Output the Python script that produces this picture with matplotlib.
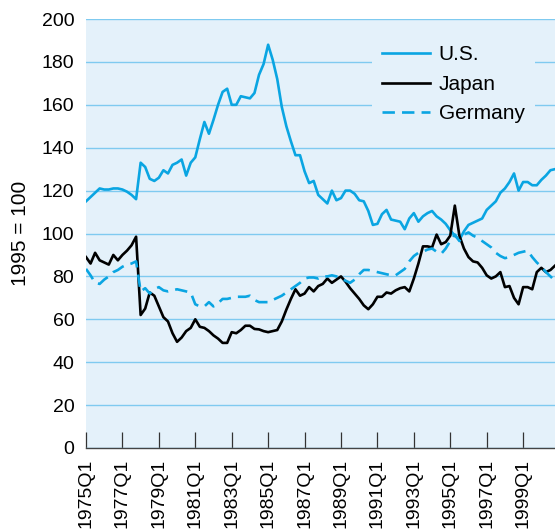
import matplotlib
matplotlib.use("Agg")
import matplotlib.pyplot as plt
import numpy as np

# Quarterly data 1975Q1 .. 2000Q4
years = list(range(1975, 2001))
quarters = [f"{y}Q{q}" for y in years for q in range(1, 5)]

us = [115, 117, 119, 121, 120.5, 120.5, 121, 121, 120.5, 119.5, 118, 116,
      133, 131, 125.5, 124.5, 126, 129.5, 128, 132, 133, 134.5, 127, 133,
      135.5, 144, 152, 146.5, 153, 160, 166, 167.5, 160, 160, 164, 163.5,
      163, 165.5, 174, 179, 188, 181, 172, 159, 150, 143, 136.5, 136.5,
      129, 123.5, 124.5, 118, 116, 114, 120, 115.5, 116.5, 120, 120, 118.5,
      115.5, 115, 110.5, 104, 104.5, 109, 111, 106.5, 106, 105.5, 102, 107,
      109.5, 105.5, 108, 109.5, 110.5, 108, 106.5, 104.5, 101.5, 99, 97, 101,
      104, 105, 106, 107, 111, 113, 115, 119, 121, 124, 128, 120,
      124, 124, 122.5, 122.5, 125, 127, 129.5, 130]

japan = [89, 86, 91, 87.5, 86.5, 85.5, 90, 87.5, 90, 92, 94.5, 98.5,
         62, 65, 72.5, 71, 66, 61, 59, 53.5, 49.5, 51.5, 54.5, 56,
         60, 56.5, 56, 54.5, 52.5, 51, 49, 49, 54, 53.5, 55, 57,
         57, 55.5, 55.3, 54.5, 54, 54.5, 55, 59, 64.5, 69.5, 74, 71,
         72, 75, 73, 75.5, 76.5, 79, 77, 78.5, 80, 77.5, 74.5, 72,
         69.5, 66.5, 64.7, 67, 70.5, 70.5, 72.5, 72, 73.5, 74.5, 75, 73,
         79, 86, 94, 94, 93.5, 99.5, 95, 96, 99, 113, 99, 93,
         89, 87, 86.5, 84, 80.5, 79, 80, 82, 75, 75.5, 70, 67,
         75, 75, 74, 82, 84, 82, 83, 85]

germany = [83.5, 80.5, 77, 76.5, 78.5, 80, 82, 83, 84.5, 85.5, 86, 87,
           73, 74.5, 72, 74, 75, 73.5, 73, 73.5, 74, 73.5, 73, 72.5,
           67, 66, 66, 68, 66, 67.5, 69.5, 69.5, 70, 70.5, 70.5, 70.5,
           71, 69, 68, 68, 68, 69, 70, 71, 72.5, 74, 75.5, 77,
           79, 79.5, 79.5, 79, 80, 80, 80.5, 80, 79, 78, 77, 78.5,
           81, 83, 83, 82.5, 82, 81.5, 81, 80.5, 80.5, 82, 83.5, 87,
           89.5, 91, 91.5, 92.5, 93, 91.5, 90.5, 93, 96.5, 99.5, 96.5, 99.5,
           100.5, 99, 98, 96.5, 95, 93.5, 91, 89.5, 88.5, 89, 90, 91,
           91.5, 92, 89, 86.5, 84.5, 82, 80, 78]

series_names = ["U.S.", "Japan", "Germany"]
tick_labels = quarters[::8]

BG = "#e4f1fa"
GRID = "#7fcaf0"
BLUE = "#0aa5e2"

plt.rcParams["font.family"] = ["Liberation Sans", "DejaVu Sans"]

W, H = 555, 531
fig = plt.figure(figsize=(W / 100, H / 100), dpi=100)
ax = fig.add_axes([86 / W, (H - 448) / H, 1 - 86 / W, (448 - 19) / H])
ax.set_facecolor(BG)

x = np.arange(len(quarters))
LW = 1.9
ax.plot(x, us, color=BLUE, lw=LW, label=series_names[0], zorder=3)
ax.plot(x, japan, color="black", lw=LW, label=series_names[1], zorder=3)
ax.plot(x, germany, color=BLUE, lw=LW, ls=(0, (4.7, 2.7)), label=series_names[2], zorder=3)

ax.set_xlim(0, len(quarters) - 1)
ax.set_ylim(0, 200)
ax.set_yticks(np.arange(0, 201, 20))
ax.yaxis.grid(True, color=GRID, lw=1.0)
ax.set_axisbelow(True)
ax.set_xticks(x[::8])
ax.set_xticklabels(tick_labels, rotation=90, fontsize=14)
ax.tick_params(axis="x", direction="in", length=11.5, width=0.9, color="#333333", pad=8)
ax.tick_params(axis="y", length=0, labelsize=14, pad=8.4)
for s in ["left", "top", "right"]:
    ax.spines[s].set_visible(False)
ax.spines["bottom"].set_color("#444444")
ax.spines["bottom"].set_linewidth(1.0)

ax.set_ylabel("1995 = 100", fontsize=15, labelpad=8)

leg = ax.legend(loc="upper right", bbox_to_anchor=(535 / W, (H - 35) / H),
                bbox_transform=fig.transFigure, borderaxespad=0,
                frameon=True, facecolor=BG, edgecolor=BG, framealpha=1, fancybox=False,
                fontsize=15, handlelength=2.3, handletextpad=0.4,
                labelspacing=0.5, borderpad=0.5)
leg.get_frame().set_linewidth(0)

fig.savefig("out.png", dpi=100)
